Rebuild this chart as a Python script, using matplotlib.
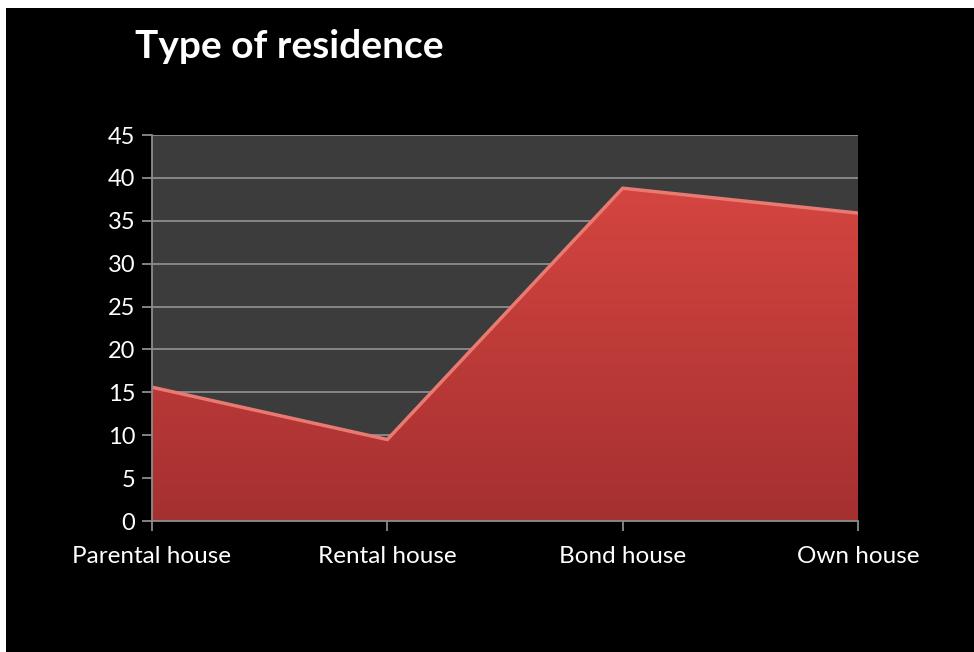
"""
Type of residence - area chart
"""
import numpy as np
import matplotlib.pyplot as plt
import matplotlib as mpl
from matplotlib.patches import Rectangle

mpl.rcParams['font.family'] = ['Lato', 'DejaVu Sans']

categories = ['Parental house', 'Rental house', 'Bond house', 'Own house']
values = [15.6, 9.5, 38.8, 35.9]
yticks = [0, 5, 10, 15, 20, 25, 30, 35, 40, 45]

fig = plt.figure(figsize=(9.74, 6.52), dpi=100, facecolor='white')
# black slide background (thin white strip at top/left like the source)
fig.patches.append(Rectangle((6 / 974, 0), 1, 1 - 8 / 652, transform=fig.transFigure,
                             facecolor='black', edgecolor='none', zorder=-10))

ax = fig.add_axes([0.156, 0.2009, 0.725, 0.592])
ax.set_zorder(2)
ax.set_facecolor('#3c3c3c')

x = np.arange(len(categories))
ax.set_xlim(0, len(categories) - 1)
ax.set_ylim(0, 45)

# area with a vertical red gradient
poly = ax.fill_between(x, values, 0, facecolor='none', edgecolor='none', zorder=3)
grad = np.linspace(0, 1, 256).reshape(-1, 1)
cmap = mpl.colors.LinearSegmentedColormap.from_list('red', ['#a53030', '#d44540'])
img = ax.imshow(grad, cmap=cmap, origin='lower', aspect='auto',
                extent=[0, len(categories) - 1, 0, max(values)], zorder=3)
img.set_clip_path(poly.get_paths()[0], transform=ax.transData)
# bevel highlight along the top edge
ax.plot(x, values, color='#e97a72', lw=2.5, zorder=4, solid_joinstyle='miter')

ax.set_yticks(yticks)
ax.set_xticks(x)
ax.set_xticklabels(categories)
ax.yaxis.grid(True, color='#8c8c8c', lw=1.3, zorder=1)
ax.set_axisbelow(True)

for s in ['top', 'right']:
    ax.spines[s].set_visible(False)
for s in ['left', 'bottom']:
    ax.spines[s].set_color('#8c8c8c')
    ax.spines[s].set_linewidth(1.3)
    ax.spines[s].set_zorder(5)

ax.tick_params(axis='y', colors='#8c8c8c', labelcolor='white', labelsize=17,
               length=7, width=1.3, pad=5)
ax.tick_params(axis='x', colors='#8c8c8c', labelcolor='white', labelsize=17.5,
               length=7, width=1.3, pad=11)

fig.text(0.139, 0.928, 'Type of residence', color='white', fontsize=28,
         fontweight='bold', va='center', ha='left')

plt.savefig('out.png', dpi=100, facecolor=fig.get_facecolor())
